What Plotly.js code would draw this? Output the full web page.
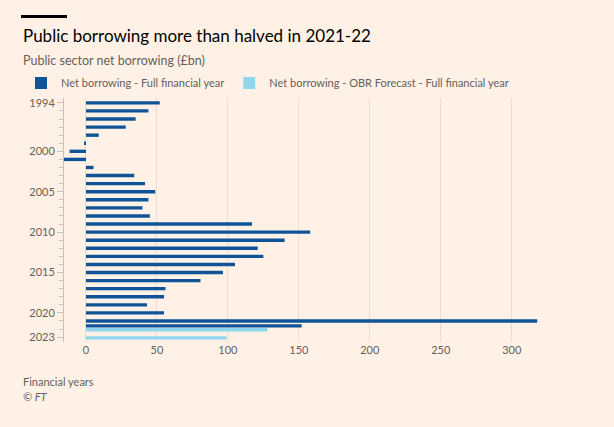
<!DOCTYPE html>
<html>
<head>
<meta charset="utf-8">
<script src="https://cdn.plot.ly/plotly-3.0.1.min.js"></script>
<style>body{margin:0;background:#fff1e5;} #plot{width:614px;height:427px;}</style>
</head>
<body>
<div id="plot"></div>
<script>
const years = [1994,1995,1996,1997,1998,1999,2000,2001,2002,2003,2004,2005,2006,2007,2008,
  2009,2010,2011,2012,2013,2014,2015,2016,2017,2018,2019,2020,2021,2022];
const borrowing = [52,44,35,28,9,-1.4,-11.6,-15.8,5.3,34,41.6,48.8,44,39.8,45,
  117,158,140,121,125,105,96.5,80.7,56,55,43,55,318,152];
const forecastYears = [2022, 2023];
const forecast = [128, 99];
const tickYears = [1994,2000,2005,2010,2015,2020,2023];

const font = 'Lato, "Open Sans", sans-serif';
const lx = -0.0885;

const traces = [
  {
    type: 'bar', orientation: 'h', name: 'Net borrowing - Full financial year',
    x: borrowing, y: years,
    width: 0.42,
    offset: years.map(y => y === 2022 ? -0.6 : -0.21),
    marker: {color: '#0f5499'}
  },
  {
    type: 'bar', orientation: 'h', name: 'Net borrowing - OBR Forecast - Full financial year',
    x: forecast, y: forecastYears,
    width: 0.42, offset: -0.12,
    marker: {color: '#8fd6ee'}
  }
];

const layout = {
  width: 614, height: 427,
  paper_bgcolor: '#fff1e5', plot_bgcolor: '#fff1e5',
  font: {family: font, color: '#66605c', size: 11},
  margin: {l: 64, r: 64, t: 98, b: 85},
  barmode: 'overlay',
  showlegend: true,
  legend: {orientation: 'h', x: lx, xanchor: 'left', y: 1.061, yanchor: 'middle',
    font: {size: 11, color: '#66605c'}, bgcolor: 'rgba(0,0,0,0)', traceorder: 'normal',
    itemwidth: 30},
  xaxis: {
    range: [-15.5, 327], tickvals: [0,50,100,150,200,250,300],
    showgrid: true, gridcolor: '#e9ddd2', zeroline: false, automargin: false,
    tickfont: {size: 11, color: '#66605c'}, ticks: '', fixedrange: true
  },
  yaxis: {
    range: [2023.6, 1993.4], tickvals: tickYears, automargin: false,
    showgrid: false, zeroline: false, showline: true, linecolor: '#ccc1b7',
    ticks: 'outside', ticklen: 6, tickcolor: '#ccc1b7',
    minor: {dtick: 1, tick0: 1994, ticks: 'outside', ticklen: 4, tickcolor: '#ccc1b7'},
    tickfont: {size: 11, color: '#66605c'}
  },
  annotations: [
    {xref: 'paper', yref: 'paper', x: lx, y: 1.258, xanchor: 'left', yanchor: 'middle',
     text: 'Public borrowing more than halved in 2021-22', showarrow: false,
     font: {size: 17, color: '#000', family: font}},
    {xref: 'paper', yref: 'paper', x: lx, y: 1.153, xanchor: 'left', yanchor: 'middle',
     text: 'Public sector net borrowing (£bn)', showarrow: false,
     font: {size: 12.5, color: '#66605c', family: font}},
    {xref: 'paper', yref: 'paper', x: lx, y: -0.16, xanchor: 'left', yanchor: 'middle',
     text: 'Financial years', showarrow: false, font: {size: 11, color: '#66605c'}},
    {xref: 'paper', yref: 'paper', x: lx, y: -0.222, xanchor: 'left', yanchor: 'middle',
     text: '<i>© FT</i>', showarrow: false, font: {size: 11, color: '#66605c'}}
  ]
};

Plotly.newPlot('plot', traces, layout, {displayModeBar: false, staticPlot: true}).then(() => {
  // FT style bar above the title
  const svg = document.querySelector('#plot .main-svg');
  const r = document.createElementNS('http://www.w3.org/2000/svg', 'rect');
  r.setAttribute('x', 21); r.setAttribute('y', 15);
  r.setAttribute('width', 46); r.setAttribute('height', 3);
  r.setAttribute('fill', '#000');
  svg.appendChild(r);
});
</script>
</body>
</html>
